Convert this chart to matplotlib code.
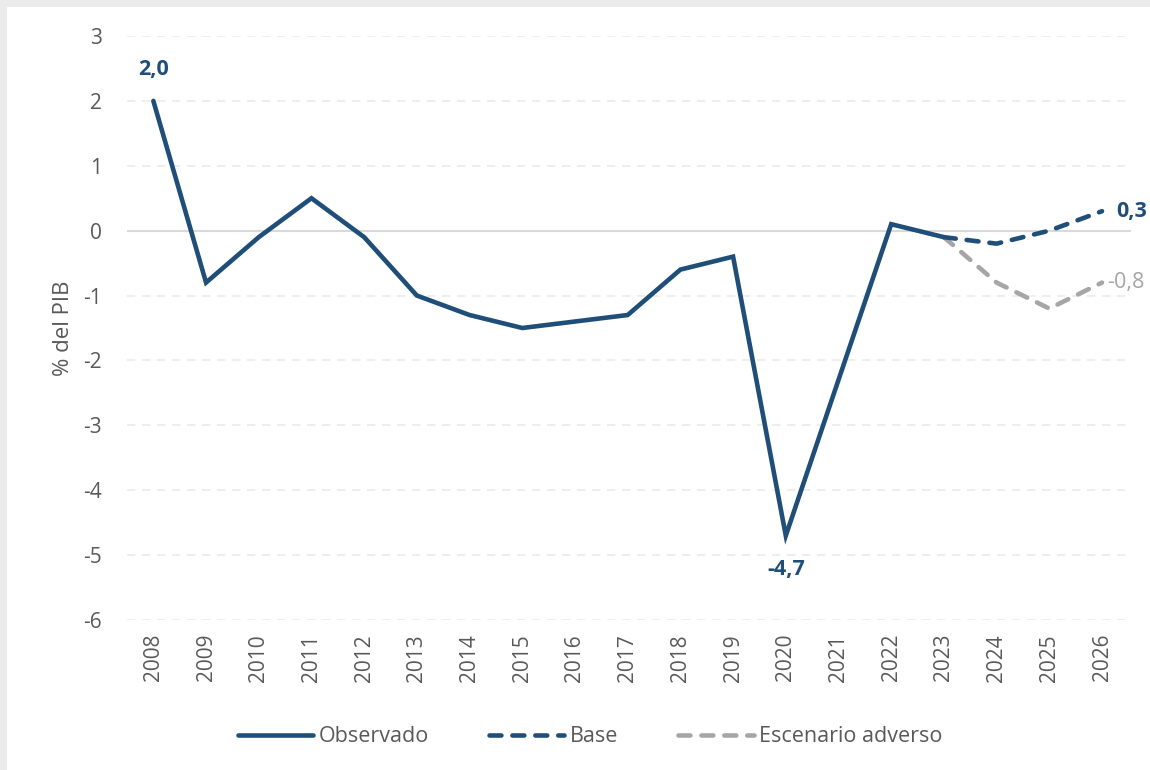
import matplotlib
matplotlib.use("Agg")
import matplotlib.pyplot as plt
from matplotlib.patches import Rectangle

years_obs = [2008, 2009, 2010, 2011, 2012, 2013, 2014, 2015, 2016, 2017,
             2018, 2019, 2020, 2021, 2022, 2023]
observado = [2.0, -0.8, -0.1, 0.5, -0.1, -1.0, -1.3, -1.5, -1.4, -1.3,
             -0.6, -0.4, -4.7, -2.3, 0.1, -0.1]
years_proj = [2023, 2024, 2025, 2026]
base = [-0.1, -0.2, 0.0, 0.3]
adverso = [-0.1, -0.8, -1.2, -0.8]
all_years = list(range(2008, 2027))
yticks = [3, 2, 1, 0, -1, -2, -3, -4, -5, -6]

BLUE = "#1F4E79"
GREY = "#A6A6A6"
TXT = "#595959"

plt.rcParams['font.family'] = ['Open Sans', 'DejaVu Sans']

fig = plt.figure(figsize=(11.5, 7.7), dpi=100)
fig.patch.set_facecolor("#EBEBEB")
fig.add_artist(Rectangle((7/1150, 0), 1, 1 - 7/770, transform=fig.transFigure,
                         facecolor="white", edgecolor="none", zorder=0))

ax = fig.add_axes([127/1150, 1 - 620/770, (1131 - 127)/1150, (620 - 36)/770])
ax.set_facecolor("none")

for y in yticks:
    if y == 0:
        ax.axhline(0, color="#D9D9D9", lw=1.5, zorder=1)
    else:
        ax.axhline(y, color="#EBEBEB", lw=1.2, ls=(0, (5, 4)), zorder=1)

ax.plot(years_obs, observado, color=BLUE, lw=3.3, solid_joinstyle="miter",
        solid_capstyle="round", zorder=3, label="Observado")
ax.plot(years_proj, base, color=BLUE, lw=3.3, dashes=(2.6, 2.4),
        dash_capstyle="round", zorder=3, label="Base")
ax.plot(years_proj, adverso, color=GREY, lw=3.3, dashes=(2.6, 2.4),
        dash_capstyle="round", zorder=2, label="Escenario adverso")

def fmt(v):
    return f"{v:.1f}".replace(".", ",")

ax.annotate(fmt(observado[0]), (years_obs[0], observado[0]), xytext=(0, 15),
            textcoords="offset points", ha="center", va="bottom",
            color=BLUE, fontsize=15.5, fontweight="bold", annotation_clip=False)
i20 = years_obs.index(2020)
ax.annotate(fmt(observado[i20]), (years_obs[i20], observado[i20]), xytext=(0, -17),
            textcoords="offset points", ha="center", va="top",
            color=BLUE, fontsize=15.5, fontweight="bold", annotation_clip=False)
ax.annotate(fmt(base[-1]), (years_proj[-1], base[-1]), xytext=(10, 0),
            textcoords="offset points", ha="left", va="center",
            color=BLUE, fontsize=15.5, fontweight="bold", annotation_clip=False)
ax.annotate(fmt(adverso[-1]), (years_proj[-1], adverso[-1]), xytext=(4, 0),
            textcoords="offset points", ha="left", va="center",
            color=GREY, fontsize=15.5, annotation_clip=False)

ax.set_xlim(2007.5, 2026.55)
ax.set_ylim(-6, 3)
ax.set_yticks(yticks)
ax.set_yticklabels([str(v) for v in yticks])
ax.set_xticks(all_years)
ax.set_xticklabels([str(y) for y in all_years], rotation=90)
ax.tick_params(axis="both", length=0, colors=TXT, labelsize=15)
ax.tick_params(axis="y", pad=18)
ax.tick_params(axis="x", pad=10)
for s in ax.spines.values():
    s.set_visible(False)

ax.set_ylabel("% del PIB", color=TXT, fontsize=16, labelpad=7)

leg = fig.legend(loc="center", bbox_to_anchor=(590/1150, 1 - 737/770), ncol=3,
                 frameon=False, fontsize=15.5, handlelength=3.5, handletextpad=0.25,
                 columnspacing=2.8, labelcolor=TXT)

fig.savefig("out.png", dpi=100, facecolor=fig.get_facecolor())
